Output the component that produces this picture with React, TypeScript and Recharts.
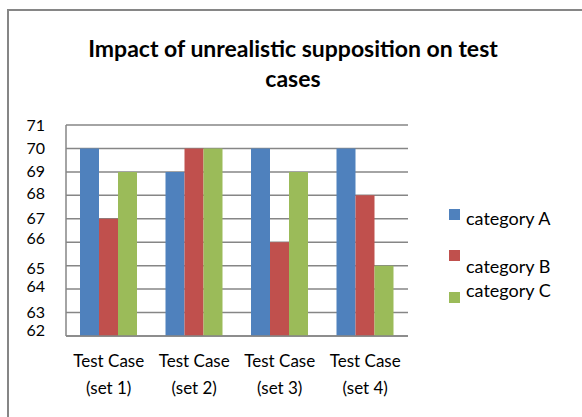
import { BarChart, Bar, XAxis, YAxis, CartesianGrid } from "recharts";

const categories = ["Test Case (set 1)", "Test Case (set 2)", "Test Case (set 3)", "Test Case (set 4)"];
const categoryA = [70, 69, 70, 70];
const categoryB = [67, 70, 66, 68];
const categoryC = [69, 70, 69, 65];
const yTicks = [62, 63, 64, 65, 66, 67, 68, 69, 70, 71];

const series = [
  { key: "a", name: "category A", color: "#4F81BD" },
  { key: "b", name: "category B", color: "#C0504D" },
  { key: "c", name: "category C", color: "#9BBB59" },
];

const data = categories.map((name, i) => ({
  name,
  a: categoryA[i],
  b: categoryB[i],
  c: categoryC[i],
}));

const font = "Lato, 'Open Sans', sans-serif";

// the original labels sit a little off their gridlines
const labelShift: Record<number, number> = { 68: -2, 66: -4, 65: 3, 64: -3, 62: -6 };

function YTick(props: any) {
  const { y, payload } = props;
  const v = payload.value;
  return (
    <text x={45} y={y + (labelShift[v] || 0)} dy="0.35em" textAnchor="end" fontSize={16} fill="#000" fontFamily={font}>
      {v}
    </text>
  );
}

function XTick(props: any) {
  const { x, y, payload } = props;
  const idx = payload.value.indexOf(" (");
  const l1 = payload.value.slice(0, idx);
  const l2 = payload.value.slice(idx + 1);
  return (
    <g>
      <text x={x} y={y + 17} dy="0.35em" textAnchor="middle" fontSize={17} fill="#000" fontFamily={font}>{l1}</text>
      <text x={x} y={y + 44} dy="0.35em" textAnchor="middle" fontSize={17} fill="#000" fontFamily={font}>{l2}</text>
    </g>
  );
}

const legendTops = [209, 250, 292];
const legendTextTops = [207, 255, 279];

export default function App() {
  return (
    <div style={{ position: "absolute", left: 0, top: 0, width: 582, height: 417, background: "#fff", overflow: "hidden", fontFamily: font }}>
      <div style={{ position: "absolute", left: 7, top: 9, width: 600, height: 420, borderTop: "2px solid #868686", borderLeft: "2px solid #868686" }} />
      <div style={{ position: "absolute", left: 73, top: 33, width: 440, textAlign: "center", fontWeight: 700, fontSize: 23, lineHeight: "30px", color: "#000" }}>
        Impact of unrealistic supposition on test cases
      </div>
      <div style={{ position: "absolute", left: 0, top: 0 }}>
        <BarChart width={582} height={417} data={data} margin={{ top: 125, right: 174, bottom: 21, left: 26 }} barGap={0} barSize={19}>
          <CartesianGrid vertical={false} stroke="#868686" strokeWidth={1.5} />
          <XAxis dataKey="name" height={60} tickLine={false} axisLine={{ stroke: "#868686", strokeWidth: 1.5 }} tick={<XTick />} interval={0} />
          <YAxis width={40} domain={[62, 71]} ticks={yTicks} interval={0} tickLine={false} axisLine={{ stroke: "#868686", strokeWidth: 1.5 }} tick={<YTick />} />
          {series.map((s) => (
            <Bar key={s.key} dataKey={s.key} name={s.name} fill={s.color} isAnimationActive={false} />
          ))}
        </BarChart>
      </div>
      {series.map((s, i) => (
        <div key={s.key}>
          <div style={{ position: "absolute", left: 449, top: legendTops[i], width: 11, height: 11, background: s.color }} />
          <div style={{ position: "absolute", left: 466, top: legendTextTops[i], fontSize: 18, lineHeight: "22px", color: "#000" }}>{s.name}</div>
        </div>
      ))}
    </div>
  );
}
